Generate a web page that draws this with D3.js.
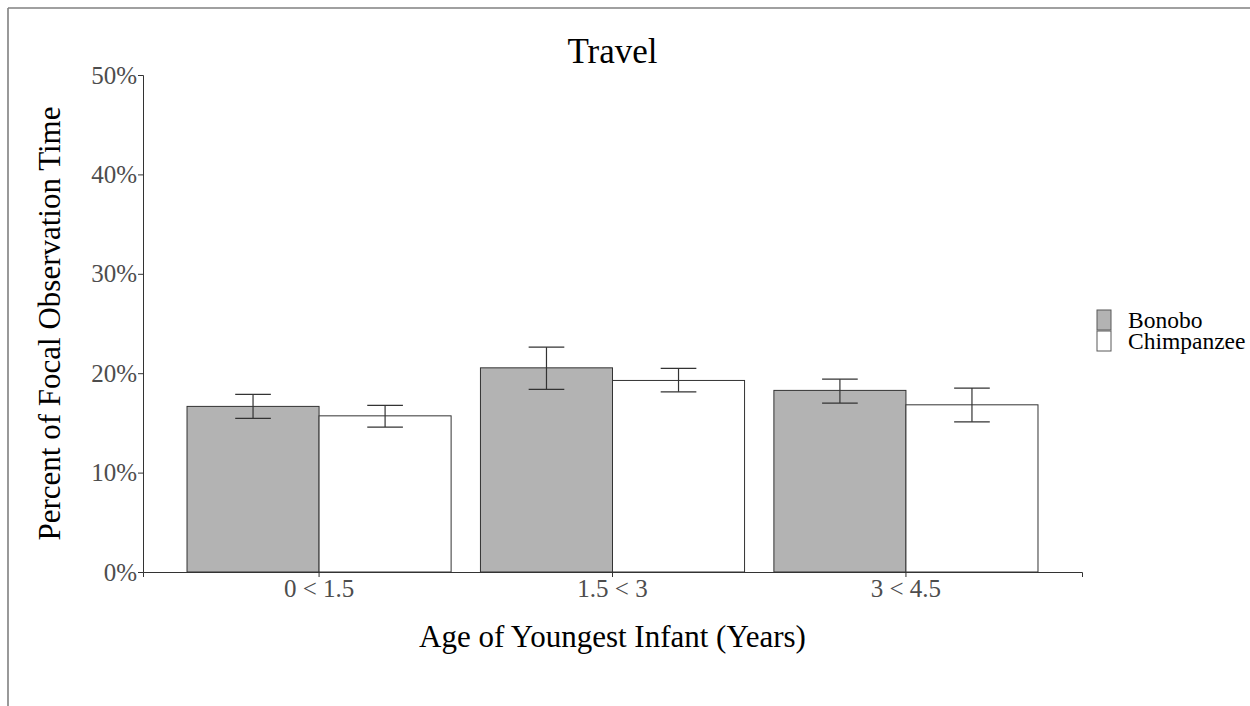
<!DOCTYPE html>
<html>
<head>
<meta charset="utf-8">
<script src="https://cdn.jsdelivr.net/npm/d3@7"></script>
<style>
  html, body { margin: 0; padding: 0; background: #ffffff; }
  svg { display: block; }
</style>
</head>
<body>
<svg id="chart" width="1250" height="706"></svg>
<script>
// Age groups of the youngest infant
const ageGroups = ["0 < 1.5", "1.5 < 3", "3 < 4.5"];
const species = ["Bonobo", "Chimpanzee"];

// Mean percent of focal observation time spent travelling, with error bar limits
const bonoboMean  = [16.66, 20.54, 18.27];
const bonoboLow   = [15.45, 18.37, 16.99];
const bonoboHigh  = [17.87, 22.62, 19.40];
const chimpMean   = [15.71, 19.27, 16.82];
const chimpLow    = [14.58, 18.13, 15.11];
const chimpHigh   = [16.76, 20.48, 18.50];

const yTicks = [0, 10, 20, 30, 40, 50];

const rows = [];
ageGroups.forEach((g, i) => {
  rows.push({ group: g, species: "Bonobo", mean: bonoboMean[i], low: bonoboLow[i], high: bonoboHigh[i] });
  rows.push({ group: g, species: "Chimpanzee", mean: chimpMean[i], low: chimpLow[i], high: chimpHigh[i] });
});

const svg = d3.select("#chart");
const serif = "'Liberation Serif', 'Times New Roman', serif";
const plot = { left: 143, right: 1082, top: 75, bottom: 572 };

// Outer frame lines
svg.append("line").attr("x1", 8).attr("x2", 1250).attr("y1", 8).attr("y2", 8)
  .attr("stroke", "#808080").attr("stroke-width", 1.6);
svg.append("line").attr("x1", 8).attr("x2", 8).attr("y1", 8).attr("y2", 706)
  .attr("stroke", "#808080").attr("stroke-width", 1.6);

const x0 = d3.scaleBand().domain(ageGroups).range([plot.left, plot.right])
  .paddingInner(0).paddingOuter(0.1);
const x1 = d3.scaleBand().domain(species)
  .range([x0.bandwidth() * 0.05, x0.bandwidth() * 0.95]).padding(0);
const y = d3.scaleLinear().domain([0, 50]).range([plot.bottom, plot.top]);
const fill = d3.scaleOrdinal().domain(species).range(["#b3b3b3", "#ffffff"]);

// Bars
svg.append("g").selectAll("rect").data(rows).join("rect")
  .attr("x", d => x0(d.group) + x1(d.species))
  .attr("y", d => y(d.mean))
  .attr("width", x1.bandwidth())
  .attr("height", d => y(0) - y(d.mean))
  .attr("fill", d => fill(d.species))
  .attr("stroke", "#333333")
  .attr("stroke-width", 1);

// Error bars
const capHalf = x1.bandwidth() * 0.135;
const eb = svg.append("g").attr("stroke", "#333333").attr("stroke-width", 1.2).attr("fill", "none");
rows.forEach(d => {
  const cx = x0(d.group) + x1(d.species) + x1.bandwidth() / 2;
  eb.append("line").attr("x1", cx).attr("x2", cx).attr("y1", y(d.low)).attr("y2", y(d.high));
  eb.append("line").attr("x1", cx - capHalf).attr("x2", cx + capHalf).attr("y1", y(d.low)).attr("y2", y(d.low));
  eb.append("line").attr("x1", cx - capHalf).attr("x2", cx + capHalf).attr("y1", y(d.high)).attr("y2", y(d.high));
});

// Y axis
const yAxis = svg.append("g").attr("transform", `translate(${plot.left},0)`)
  .call(d3.axisLeft(y).tickValues(yTicks).tickFormat(d => d + "%").tickSizeOuter(0).tickSize(5).tickPadding(1));
yAxis.select(".domain").attr("stroke", "#333333");
yAxis.selectAll(".tick line").attr("stroke", "#333333");
yAxis.selectAll("text").attr("font-family", serif).attr("font-size", 25).attr("fill", "#4d4d4d");

// X axis
const xAxis = svg.append("g").attr("transform", `translate(0,${plot.bottom})`)
  .call(d3.axisBottom(x0).tickSizeOuter(0).tickSize(5).tickPadding(2));
xAxis.select(".domain").attr("stroke", "#333333");
xAxis.selectAll(".tick line").attr("stroke", "#333333");
xAxis.selectAll("text").attr("font-family", serif).attr("font-size", 25).attr("fill", "#4d4d4d");

// Title and axis titles
svg.append("text").attr("x", (plot.left + plot.right) / 2).attr("y", 63)
  .attr("text-anchor", "middle").attr("font-family", serif).attr("font-size", 35)
  .attr("fill", "#000").text("Travel");
svg.append("text").attr("x", (plot.left + plot.right) / 2).attr("y", 647)
  .attr("text-anchor", "middle").attr("font-family", serif).attr("font-size", 31)
  .attr("fill", "#000").text("Age of Youngest Infant (Years)");
svg.append("text")
  .attr("transform", `translate(60,${(plot.top + plot.bottom) / 2}) rotate(-90)`)
  .attr("text-anchor", "middle").attr("font-family", serif).attr("font-size", 31)
  .attr("fill", "#000").text("Percent of Focal Observation Time");

// Legend
const legend = svg.append("g").attr("transform", "translate(1097,310)");
species.forEach((s, i) => {
  const row = legend.append("g").attr("transform", `translate(0,${i * 21})`);
  row.append("rect").attr("x", 0).attr("y", 0).attr("width", 14).attr("height", 20)
    .attr("fill", fill(s)).attr("stroke", "#595959").attr("stroke-width", 1);
  row.append("text").attr("x", 31).attr("y", 17.5)
    .attr("font-family", serif).attr("font-size", 23.5).attr("fill", "#000").text(s);
});
</script>
</body>
</html>
